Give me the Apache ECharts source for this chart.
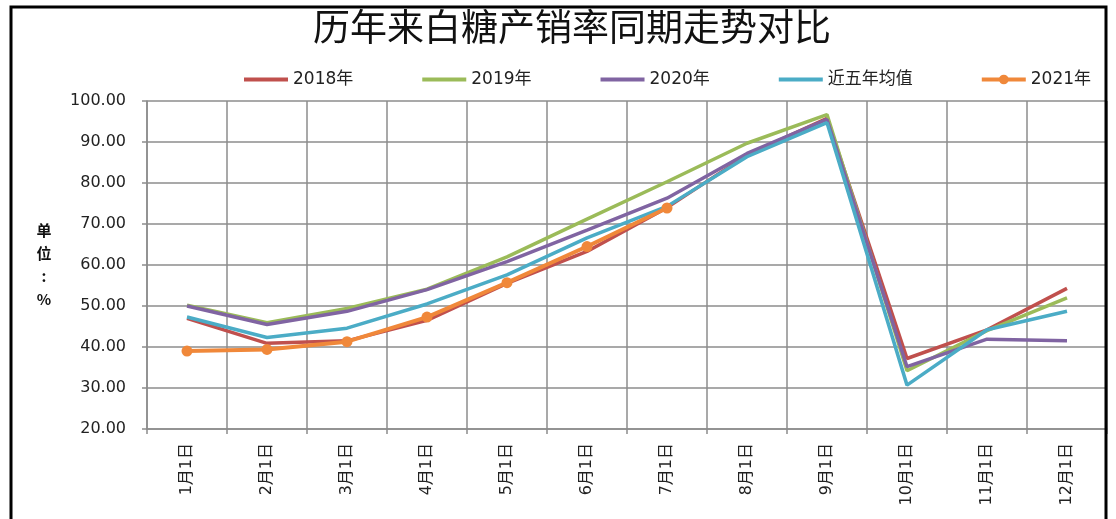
<!DOCTYPE html>
<html>
<head>
<meta charset="utf-8">
<script src="https://cdn.jsdelivr.net/npm/echarts@6/dist/echarts.min.js"></script>
<style>
  html, body { margin: 0; padding: 0; background: #fff; }
  #chart { width: 1116px; height: 519px; }
</style>
</head>
<body>
<div id="chart"></div>
<script>
// 月份
const months = ["1月1日", "2月1日", "3月1日", "4月1日", "5月1日", "6月1日",
  "7月1日", "8月1日", "9月1日", "10月1日", "11月1日", "12月1日"];

// 产销率 (%)
const y2018 = [47.0, 40.9, 41.5, 46.5, 55.5, 63.3, 74.0, 86.8, 95.8, 37.2, 44.2, 54.3];
const y2019 = [50.2, 45.9, 49.4, 54.1, 62.0, 71.2, 80.3, 89.7, 96.7, 34.2, 44.0, 52.0];
const y2020 = [50.0, 45.5, 48.7, 54.0, 60.8, 68.5, 76.3, 87.2, 95.5, 35.2, 41.9, 41.5];
const avg5 = [47.3, 42.3, 44.6, 50.5, 57.6, 66.6, 74.3, 86.4, 94.7, 30.7, 44.2, 48.7];
const y2021 = [39.0, 39.4, 41.3, 47.3, 55.7, 64.5, 73.9];

const seriesNames = ["2018年", "2019年", "2020年", "近五年均值", "2021年"];
const colors = ["#C0504D", "#9BBB59", "#8064A2", "#4BACC6", "#F0883A"];

const chart = echarts.init(document.getElementById("chart"));

// 无标记的折线, 图例里只显示线段
const lineSeries = (name, data, color) => ({
  name: name,
  type: "line",
  data: data,
  symbol: "line",
  showSymbol: false,
  color: color,
  itemStyle: { color: color },
  lineStyle: { width: 3.5, color: color },
});

const option = {
  animation: false,
  textStyle: { fontFamily: "DejaVu Sans, 'Noto Sans CJK SC', sans-serif" },
  title: {
    text: "历年来白糖产销率同期走势对比",
    left: 308,
    top: 3,
    textStyle: {
      fontFamily: "'Noto Sans CJK SC', sans-serif",
      fontSize: 37,
      fontWeight: "normal",
      color: "#111",
    },
  },
  legend: {
    data: seriesNames,
    left: 237,
    top: 66,
    itemWidth: 44,
    itemHeight: 12,
    itemGap: 67,
    lineStyle: { width: 4 },
    textStyle: {
      fontFamily: "DejaVu Sans, 'Noto Sans CJK SC', sans-serif",
      fontSize: 17,
      color: "#222",
    },
  },
  graphic: [
    {
      type: "polyline",
      shape: { points: [[11, 519], [11, 7], [1106, 7], [1106, 519]] },
      style: { stroke: "#000", lineWidth: 3, fill: null },
      z: 100,
    },
  ],
  grid: {
    left: 147,
    right: 9,
    top: 101,
    bottom: 90,
  },
  xAxis: {
    type: "category",
    data: months,
    boundaryGap: true,
    axisLine: { lineStyle: { color: "#8c8c8c", width: 1.5 } },
    axisTick: { show: true, length: 5, interval: 0, lineStyle: { color: "#8c8c8c", width: 1.5 } },
    splitLine: { show: true, interval: 0, lineStyle: { color: "#8c8c8c", width: 1.5 } },
    axisLabel: {
      rotate: 90,
      interval: 0,
      margin: 14,
      fontSize: 16,
      color: "#222",
      fontFamily: "DejaVu Sans, 'Noto Sans CJK SC', sans-serif",
    },
  },
  yAxis: {
    type: "value",
    min: 20,
    max: 100,
    interval: 10,
    name: "单\n位\n:\n%",
    nameLocation: "middle",
    nameRotate: 0,
    nameGap: 103,
    nameTextStyle: {
      align: "center",
      verticalAlign: "middle",
      fontFamily: "'Noto Sans CJK SC', sans-serif",
      fontSize: 15,
      fontWeight: "bold",
      lineHeight: 23,
      color: "#111",
    },
    axisLine: { show: true, lineStyle: { color: "#8c8c8c", width: 1.5 } },
    axisTick: { show: true, length: 5, lineStyle: { color: "#8c8c8c", width: 1.5 } },
    splitLine: { show: true, lineStyle: { color: "#8c8c8c", width: 1.5 } },
    axisLabel: {
      margin: 21,
      fontSize: 16,
      color: "#222",
      formatter: (v) => v.toFixed(2),
    },
  },
  series: [
    lineSeries(seriesNames[0], y2018, colors[0]),
    lineSeries(seriesNames[1], y2019, colors[1]),
    lineSeries(seriesNames[2], y2020, colors[2]),
    lineSeries(seriesNames[3], avg5, colors[3]),
    {
      name: seriesNames[4],
      type: "line",
      data: y2021,
      color: colors[4],
      symbol: "circle",
      symbolSize: 11,
      itemStyle: { color: colors[4] },
      lineStyle: { width: 4, color: colors[4] },
    },
  ],
};

chart.setOption(option);
</script>
</body>
</html>
